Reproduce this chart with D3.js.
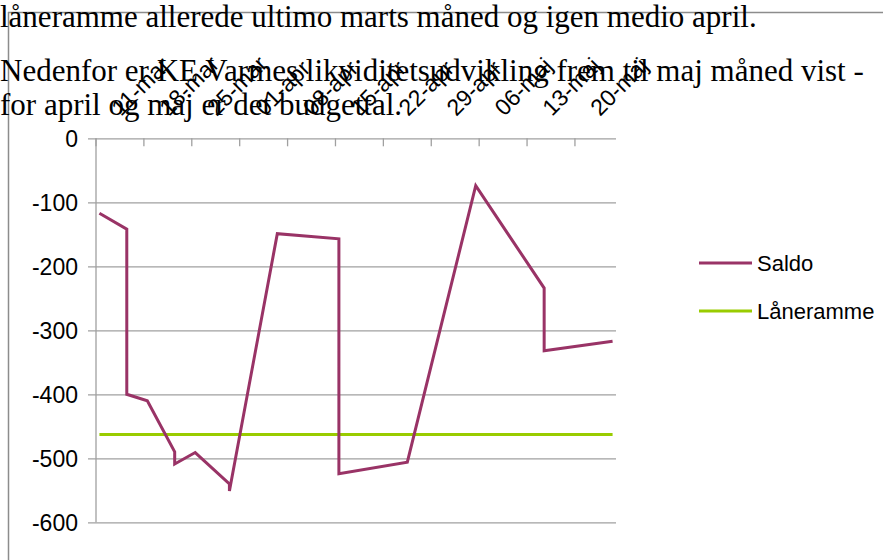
<!DOCTYPE html>
<html>
<head>
<meta charset="utf-8">
<script src="https://cdnjs.cloudflare.com/ajax/libs/d3/7.8.5/d3.min.js"></script>
<style>
  body { margin: 0; background: #fff; }
  svg { display: block; }
</style>
</head>
<body>
<svg></svg>

<script>

  // document text around the chart
  var docLines = [
    "låneramme allerede ultimo marts måned og igen medio april.",
    "Nedenfor er KE Varmes likviditetsudvikling frem til maj måned vist -",
    "for april og maj er det budgettal."
  ];

  // Saldo series (dates repeat where the balance jumps on one day)
  var saldoDates = ["2009-03-11", "2009-03-15", "2009-03-15", "2009-03-18", "2009-03-22",
                    "2009-03-22", "2009-03-25", "2009-03-30", "2009-03-30", "2009-04-06",
                    "2009-04-15", "2009-04-15", "2009-04-25", "2009-05-05", "2009-05-15",
                    "2009-05-15", "2009-05-25"];
  var saldoValues = [-117, -142, -400, -410, -490, -509, -491, -540, -551, -149,
                     -157, -524, -506, -74, -234, -332, -317];
  var laneramme = -463;

  var yTicks = [0, -100, -200, -300, -400, -500, -600];
  var xTickLabels = ["11-mar", "18-mar", "25-mar", "01-apr", "08-apr", "15-apr",
                     "22-apr", "29-apr", "06-maj", "13-maj", "20-maj"];

  var seriesNames = ["Saldo", "Låneramme"];
  var colors = ["#993366", "#99cc00"];

  var parse = d3.timeParse("%Y-%m-%d");
  var dates = saldoDates.map(parse);
  var start = parse("2009-03-11"), end = parse("2009-05-26");

  var svg = d3.select("svg").attr("width", 883).attr("height", 560);

  var x = d3.scaleTime().domain([start, end]).range([96, 616]);
  var y = d3.scaleLinear().domain([-600, 0]).range([522.3, 138.3]);

  // points sit in the middle of their day
  var px = function(d) { return x(d3.timeHour.offset(d, 12)); };

  // outer frame of the chart object
  svg.append("line").attr("x1", 8).attr("x2", 883).attr("y1", 12.5).attr("y2", 12.5)
    .attr("stroke", "#8c8c8c").attr("stroke-width", 1.5);
  svg.append("line").attr("x1", 8.5).attr("x2", 8.5).attr("y1", 12).attr("y2", 560)
    .attr("stroke", "#8c8c8c").attr("stroke-width", 1.5);

  // horizontal gridlines + y axis ticks
  svg.append("g")
    .attr("transform", "translate(96,0)")
    .call(d3.axisLeft(y).tickValues(yTicks).tickSize(-520).tickSizeOuter(0).tickPadding(18)
      .tickFormat(function(d) { return String(d); }))
    .call(function(g) {
      g.select(".domain").remove();
      g.selectAll(".tick line").attr("stroke", "#a0a0a0").attr("stroke-width", 1.3).attr("x1", -8);
      g.selectAll(".tick text").attr("font-family", "Liberation Sans, Arial, sans-serif")
        .attr("font-size", 23).attr("fill", "#000").attr("dy", "0.36em");
    });

  // y axis line
  svg.append("line").attr("x1", 96).attr("x2", 96).attr("y1", y(0)).attr("y2", y(-600))
    .attr("stroke", "#a0a0a0").attr("stroke-width", 1.3);

  // category (date) axis along the zero line, ticks pointing down
  var tickDates = d3.timeDay.range(start, end, 7);
  svg.selectAll(".xtick").data(tickDates).enter().append("line")
    .attr("class", "xtick")
    .attr("x1", function(d) { return x(d); }).attr("x2", function(d) { return x(d); })
    .attr("y1", y(0)).attr("y2", y(0) + 8)
    .attr("stroke", "#a0a0a0").attr("stroke-width", 1.3);

  svg.selectAll(".xlab").data(tickDates).enter().append("text")
    .attr("class", "xlab")
    .attr("transform", function(d) { return "translate(" + (x(d) + 25) + ",117) rotate(-45)"; })
    .attr("font-family", "Liberation Sans, Arial, sans-serif")
    .attr("font-size", 23)
    .text(function(d, i) { return xTickLabels[i]; });

  // series lines
  var line = d3.line()
    .x(function(d) { return px(d.date); })
    .y(function(d) { return y(d.value); });

  var saldo = dates.map(function(d, i) { return { date: d, value: saldoValues[i] }; });
  var laane = dates.map(function(d) { return { date: d, value: laneramme }; });

  svg.append("path").datum(laane).attr("d", line)
    .attr("fill", "none").attr("stroke", colors[1]).attr("stroke-width", 3);
  svg.append("path").datum(saldo).attr("d", line)
    .attr("fill", "none").attr("stroke", colors[0]).attr("stroke-width", 3)
    .attr("stroke-linejoin", "miter");

  // legend
  var legend = svg.selectAll(".leg").data(seriesNames).enter().append("g")
    .attr("transform", function(d, i) { return "translate(699," + (263 + i * 48) + ")"; });
  legend.append("line").attr("x1", 0).attr("x2", 53)
    .attr("stroke", function(d, i) { return colors[i]; }).attr("stroke-width", 3);
  legend.append("text").attr("x", 58).attr("dy", "0.36em")
    .attr("font-family", "Liberation Sans, Arial, sans-serif")
    .attr("font-size", 22)
    .text(function(d) { return d; });

  // document text on top
  svg.selectAll(".doc").data(docLines).enter().append("text")
    .attr("x", 0)
    .attr("y", function(d, i) { return [26.7, 81, 115.3][i]; })
    .attr("font-family", "Liberation Serif, Times New Roman, serif")
    .attr("font-size", 31)
    .attr("fill", "#000")
    .text(function(d) { return d; });

</script>
</body>
</html>
